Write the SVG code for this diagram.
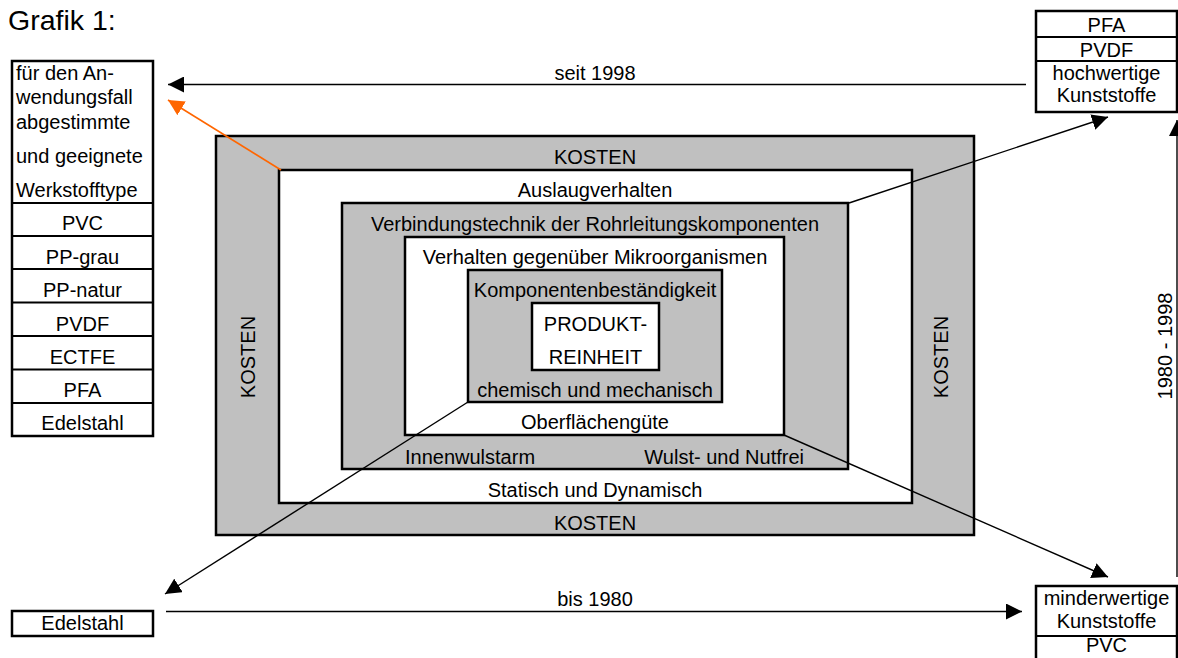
<svg xmlns="http://www.w3.org/2000/svg" width="1178" height="658" viewBox="0 0 1178 658">
<style>
text{font-family:"Liberation Sans",Arial,sans-serif;font-size:20px;fill:#000}
.c{text-anchor:middle}
.box{stroke:#000;stroke-width:2.5}
.g{fill:#C0C0C0}
.w{fill:#fff}
.div{stroke:#000;stroke-width:2.2}
.ln{stroke:#000;stroke-width:1.4;fill:none}
.or{stroke:#FF6600;stroke-width:1.6;fill:none}
</style>
<defs>
<marker id="ah" viewBox="0 0 16 16" markerWidth="16" markerHeight="16" refX="16" refY="8" orient="auto" markerUnits="userSpaceOnUse"><path d="M0,0 L16,8 L0,16 z" fill="#000"/></marker>
<marker id="aho" viewBox="0 0 16 16" markerWidth="16" markerHeight="16" refX="16" refY="8" orient="auto" markerUnits="userSpaceOnUse"><path d="M0,0 L16,8 L0,16 z" fill="#FF6600"/></marker>
</defs>
<rect width="1178" height="658" fill="#fff"/>
<text x="8" y="30" style="font-size:28.5px">Grafik 1:</text>

<g id="nested">
<rect class="box g" x="216" y="136" width="758" height="399"/>
<rect class="box w" x="279" y="170" width="633" height="333"/>
<rect class="box g" x="342" y="203" width="506" height="266"/>
<rect class="box w" x="405" y="237" width="379" height="198"/>
<rect class="box g" x="468" y="270" width="254" height="132"/>
<rect class="box w" x="532" y="303" width="127" height="67"/>
<text class="c" x="595" y="164">KOSTEN</text>
<text class="c" x="595" y="197">Auslaugverhalten</text>
<text class="c" x="595" y="231">Verbindungstechnik der Rohrleitungskomponenten</text>
<text class="c" x="595" y="264">Verhalten gegenüber Mikroorganismen</text>
<text class="c" x="595" y="297">Komponentenbeständigkeit</text>
<text class="c" x="595.5" y="331">PRODUKT-</text>
<text class="c" x="595.5" y="364">REINHEIT</text>
<text class="c" x="595" y="397">chemisch und mechanisch</text>
<text class="c" x="595" y="429">Oberflächengüte</text>
<text x="405" y="464">Innenwulstarm</text>
<text x="804" y="464" style="text-anchor:end">Wulst- und Nutfrei</text>
<text class="c" x="595" y="497">Statisch und Dynamisch</text>
<text class="c" x="595" y="530">KOSTEN</text>
<text class="c" transform="translate(255,357) rotate(-90)">KOSTEN</text>
<text class="c" transform="translate(948,357) rotate(-90)">KOSTEN</text>
</g>

<g id="left-list">
<rect class="box" fill="#fff" x="12" y="61" width="141" height="375"/>
<line class="div" x1="12" y1="203" x2="153" y2="203"/>
<line class="div" x1="12" y1="236" x2="153" y2="236"/>
<line class="div" x1="12" y1="269" x2="153" y2="269"/>
<line class="div" x1="12" y1="302.5" x2="153" y2="302.5"/>
<line class="div" x1="12" y1="336" x2="153" y2="336"/>
<line class="div" x1="12" y1="369.5" x2="153" y2="369.5"/>
<line class="div" x1="12" y1="403" x2="153" y2="403"/>
<text x="16" y="80">für den An-</text>
<text x="16" y="104">wendungsfall</text>
<text x="16" y="129">abgestimmte</text>
<text x="16" y="163">und geeignete</text>
<text x="16" y="197">Werkstofftype</text>
<text class="c" x="82.5" y="230">PVC</text>
<text class="c" x="82.5" y="264">PP-grau</text>
<text class="c" x="82.5" y="297">PP-natur</text>
<text class="c" x="82.5" y="330.5">PVDF</text>
<text class="c" x="82.5" y="364">ECTFE</text>
<text class="c" x="82.5" y="397">PFA</text>
<text class="c" x="82.5" y="430">Edelstahl</text>
</g>

<g id="left-edelstahl">
<rect class="box" fill="#fff" x="12" y="611" width="141" height="25"/>
<text class="c" x="82.5" y="630">Edelstahl</text>
</g>

<g id="top-right">
<rect class="box" fill="#fff" x="1036" y="11" width="141" height="101"/>
<line class="div" x1="1036" y1="37" x2="1177" y2="37"/>
<line class="div" x1="1036" y1="61" x2="1177" y2="61"/>
<text class="c" x="1106.5" y="32">PFA</text>
<text class="c" x="1106.5" y="57">PVDF</text>
<text class="c" x="1106.5" y="80">hochwertige</text>
<text class="c" x="1106.5" y="102">Kunststoffe</text>
</g>

<g id="bottom-right">
<rect class="box" fill="#fff" x="1036" y="586" width="141" height="80"/>
<line class="div" x1="1036" y1="636" x2="1177" y2="636"/>
<text class="c" x="1106.5" y="605">minderwertige</text>
<text class="c" x="1106.5" y="628">Kunststoffe</text>
<text class="c" x="1106.5" y="652">PVC</text>
</g>

<g id="connectors">
<line class="ln" x1="1026" y1="84.5" x2="168" y2="84.5" marker-end="url(#ah)"/>
<text class="c" x="595" y="80">seit 1998</text>
<line class="or" x1="281" y1="170" x2="168" y2="100" marker-end="url(#aho)"/>
<line class="ln" x1="849" y1="203" x2="1108" y2="117" marker-end="url(#ah)"/>
<line class="ln" x1="784" y1="435" x2="1108" y2="577" marker-end="url(#ah)"/>
<line class="ln" x1="468" y1="402" x2="165" y2="594" marker-end="url(#ah)"/>
<line class="ln" x1="166" y1="611.5" x2="1022" y2="611.5" marker-end="url(#ah)"/>
<text class="c" x="595" y="606">bis 1980</text>
<line class="ln" x1="1177" y1="577" x2="1177" y2="120" marker-end="url(#ah)"/>
<text class="c" transform="translate(1172,346) rotate(-90)">1980 - 1998</text>
</g>
</svg>
